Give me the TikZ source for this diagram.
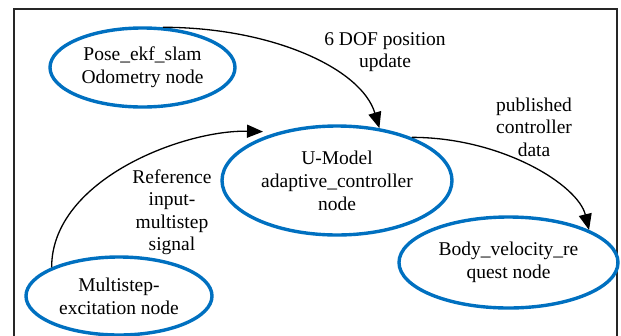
\documentclass[tikz,border=0pt]{standalone}
\usepackage{fontspec}
\setmainfont{Liberation Serif}
\usetikzlibrary{arrows.meta,shapes.geometric}
\definecolor{nodeblue}{HTML}{0070C0}
\tikzset{
  rosnode/.style={ellipse, draw=nodeblue, line width=3.4pt, inner sep=0pt, align=center,
    font=\fontsize{19.5}{23}\selectfont},
  lbl/.style={align=center, inner sep=0pt, font=\fontsize{19.5}{22.5}\selectfont},
  conn/.style={line width=1.3pt, -{Triangle[length=16pt,width=13pt]}},
}
\begin{document}
\begin{tikzpicture}[x=1pt,y=-1pt]
\useasboundingbox (0,0) rectangle (621,335);
\begin{scope}
\clip (0,0) rectangle (621,335);
\draw[line width=1.5pt, draw=black!85] (14,9) rectangle (617,360);
\node[rosnode, minimum width=185pt, minimum height=79pt] (pose) at (142.5,67.5) {Pose\_ekf\_slam\\Odometry node};
\node[rosnode, minimum width=230pt, minimum height=109pt] (umodel) at (337,180.5) {U-Model\\adaptive\_controller\\node};
\node[rosnode, minimum width=219pt, minimum height=91pt] (body) at (508.5,262.5) {Body\_velocity\_re\\quest node};
\node[rosnode, minimum width=186pt, minimum height=78pt] (multi) at (119,296) {Multistep-\\excitation node};
\node[lbl] (l1) at (385,52) {6 DOF position\\update};
\node[lbl] (l2) at (534,127) {published\\controller\\data};
\node[lbl] (l3) at (172,212) {Reference\\input-\\multistep\\signal};
\draw[conn] (pose.63) .. controls +(108,0) and +(-18,-60) .. (umodel.51);
\draw[conn] (umodel.30) .. controls +(90,0) and +(-11,-45) .. (body.22);
\draw[conn, shorten >=1pt] (multi.157) .. controls +(0,-88) and +(-80,-2) .. ([yshift=5pt]umodel.149);
\end{scope}
\end{tikzpicture}
\end{document}
